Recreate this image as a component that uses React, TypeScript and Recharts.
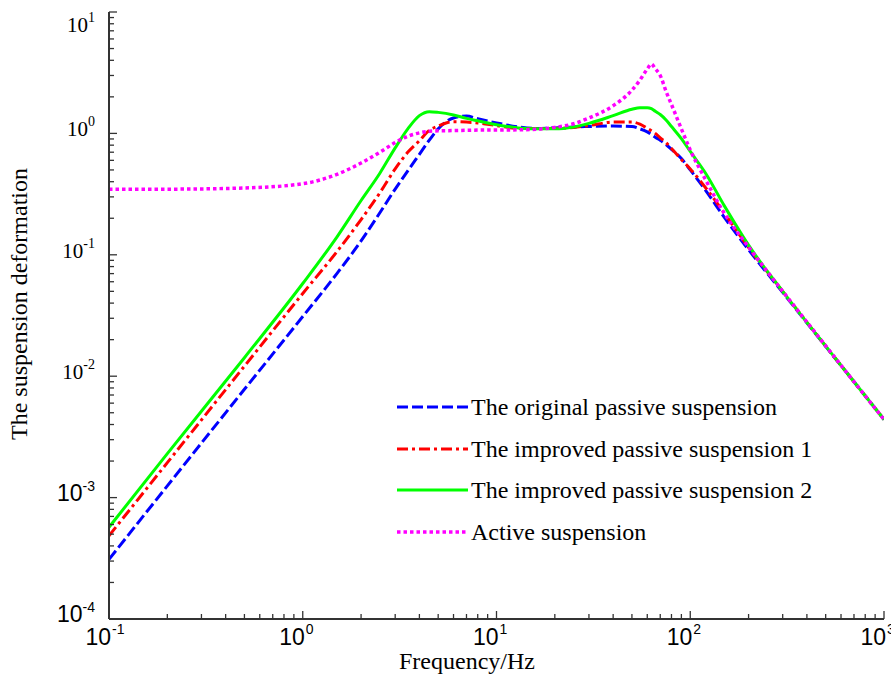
import React from 'react';
import { LineChart, Line, XAxis, YAxis, Legend } from 'recharts';

// Frequency (Hz)
const freq = [0.1, 0.2, 0.5, 1, 1.5, 2, 2.5, 3, 3.5, 4, 4.5, 5, 6, 7, 8, 10, 13, 16, 20, 25, 30, 40, 50, 55, 60, 63, 66, 70, 75, 80, 90, 100, 120, 150, 200, 300, 500, 700, 1000];

const originalPassive = [3.1e-4, 1.25e-3, 7.8e-3, 0.031, 0.07, 0.13, 0.222, 0.348, 0.497, 0.673, 0.88, 1.09, 1.34, 1.39, 1.32, 1.22, 1.13, 1.1, 1.11, 1.13, 1.14, 1.15, 1.14, 1.09, 1.03, 0.98, 0.93, 0.88, 0.81, 0.74, 0.62, 0.5, 0.34, 0.203, 0.11, 0.049, 0.0176, 0.009, 0.0044];
const improvedPassive1 = [4.85e-4, 1.94e-3, 0.0121, 0.048, 0.106, 0.195, 0.324, 0.51, 0.705, 0.87, 1.06, 1.15, 1.25, 1.24, 1.22, 1.16, 1.1, 1.1, 1.1, 1.12, 1.16, 1.24, 1.24, 1.19, 1.1, 1.05, 1.0, 0.92, 0.84, 0.75, 0.61, 0.51, 0.357, 0.22, 0.115, 0.05, 0.0177, 0.009, 0.0044];
const improvedPassive2 = [5.7e-4, 2.3e-3, 0.0142, 0.058, 0.14, 0.28, 0.47, 0.76, 1.1, 1.4, 1.51, 1.49, 1.42, 1.33, 1.27, 1.18, 1.11, 1.09, 1.09, 1.13, 1.21, 1.4, 1.58, 1.63, 1.63, 1.6, 1.52, 1.43, 1.29, 1.14, 0.905, 0.71, 0.47, 0.253, 0.12, 0.05, 0.0177, 0.009, 0.0044];
const activeSusp = [0.346, 0.347, 0.355, 0.385, 0.46, 0.57, 0.7, 0.84, 0.95, 1.01, 1.04, 1.05, 1.055, 1.06, 1.065, 1.067, 1.07, 1.08, 1.12, 1.2, 1.34, 1.69, 2.27, 2.75, 3.39, 3.73, 3.41, 3.0, 2.22, 1.73, 1.09, 0.73, 0.415, 0.219, 0.116, 0.05, 0.0178, 0.009, 0.0044];

const seriesNames = [
  'The original passive suspension',
  'The improved passive suspension 1',
  'The improved passive suspension 2',
  'Active suspension',
];

const xDecades = [-1, 0, 1, 2, 3];
const yDecades = [-4, -3, -2, -1, 0, 1];

const round = (v: number) => Number(v.toPrecision(6));
const buildTicks = (decades: number[]) => {
  const out: number[] = [];
  decades.forEach((d, i) => {
    out.push(round(Math.pow(10, d)));
    if (i < decades.length - 1) {
      for (let k = 2; k <= 9; k++) out.push(round(k * Math.pow(10, d)));
    }
  });
  return out;
};
const xTicks = buildTicks(xDecades);
const yTicks = buildTicks(yDecades);

const data = freq.map((f, i) => ({
  f,
  s0: originalPassive[i],
  s1: improvedPassive1[i],
  s2: improvedPassive2[i],
  s3: activeSusp[i],
}));

const styles = [
  { key: 's0', color: '#0000ff', dash: '11 4', width: 3 },
  { key: 's1', color: '#ff0000', dash: '11 4 3 4', width: 3 },
  { key: 's2', color: '#00ff00', dash: undefined as string | undefined, width: 3 },
  { key: 's3', color: '#ff00ff', dash: '3.5 3', width: 3.5 },
];

const SERIF = "'Liberation Serif', 'Times New Roman', serif";
const SANS = "'Liberation Sans', Arial, sans-serif";
const AXIS = '#333333';

const decadeOf = (v: number) => {
  const l = Math.log10(v);
  const e = Math.round(l);
  return { e, major: Math.abs(l - e) < 1e-6 };
};

const XTick = (props: any) => {
  const { x, y, payload } = props;
  const { e, major } = decadeOf(payload.value);
  return (
    <g>
      <line x1={x} x2={x} y1={y} y2={y - (major ? 8 : 5)} stroke={AXIS} strokeWidth={1.3} />
      {major && (
        <g>
          <text x={x + 2} y={y + 26} textAnchor="end" fontFamily={SANS} fontSize={23} fill="#000">10</text>
          <text x={x + 3} y={y + 15} textAnchor="start" fontFamily={SANS} fontSize={14} fill="#000">{String(e)}</text>
        </g>
      )}
    </g>
  );
};

const YTick = (props: any) => {
  const { x, y, payload } = props;
  const { e, major } = decadeOf(payload.value);
  const serif = e >= -2;
  const base = e === 1 ? y + 20 : y + 3;
  return (
    <g>
      <line x1={x} x2={x + (major ? 8 : 5)} y1={y} y2={y} stroke={AXIS} strokeWidth={1.3} />
      {major && (
        <text x={x - 14} y={base} textAnchor="end" fontFamily={serif ? SERIF : SANS} fontSize={serif ? 21 : 23} fill="#000">
          10
          <tspan dy={-10} fontSize={14}>{String(e)}</tspan>
        </text>
      )}
    </g>
  );
};

const XLabel = () => (
  <text x={467} y={669} textAnchor="middle" fontFamily={SERIF} fontSize={24} fill="#000">Frequency/Hz</text>
);
const YLabel = () => (
  <text x={27} y={304} transform="rotate(-90 27 304)" textAnchor="middle" fontFamily={SERIF} fontSize={24} fill="#000">
    The suspension deformation
  </text>
);

const LegendBox = () => {
  const rows = [22, 64, 105, 147];
  return (
    <svg width={440} height={170} style={{ overflow: 'visible' }}>
      {styles.map((s, i) => (
        <g key={s.key}>
          <line x1={7} x2={78} y1={rows[i]} y2={rows[i]} stroke={s.color} strokeWidth={s.width} strokeDasharray={s.dash} />
          <text x={81} y={rows[i] + 8} fontFamily={SERIF} fontSize={24} fill="#000">{seriesNames[i]}</text>
        </g>
      ))}
    </svg>
  );
};

export default function App() {
  return (
    <div style={{ width: 891, height: 677, overflow: 'hidden', background: '#fff' }}>
      <style>{'body{margin:0;background:#fff;}'}</style>
      <LineChart
        width={891}
        height={677}
        data={data}
        margin={{ top: 12, right: 7, bottom: 18, left: 49 }}
      >
        <XAxis
          dataKey="f"
          type="number"
          scale="log"
          domain={[0.1, 1000]}
          ticks={xTicks}
          interval={0}
          height={40}
          tickSize={0}
          tickMargin={0}
          tickLine={false}
          axisLine={{ stroke: AXIS, strokeWidth: 2 }}
          tick={<XTick />}
          allowDataOverflow
          label={<XLabel />}
        />
        <YAxis
          type="number"
          scale="log"
          domain={[1e-4, 10]}
          ticks={yTicks}
          interval={0}
          width={60}
          tickSize={0}
          tickMargin={0}
          tickLine={false}
          axisLine={{ stroke: AXIS, strokeWidth: 2 }}
          tick={<YTick />}
          allowDataOverflow
          label={<YLabel />}
        />
        <Legend
          layout="vertical"
          align="center"
          verticalAlign="middle"
          wrapperStyle={{ left: 390, top: 385, width: 440, height: 170 }}
          content={<LegendBox />}
        />
        {styles.map((s, i) => (
          <Line
            key={s.key}
            dataKey={s.key}
            name={seriesNames[i]}
            type="monotone"
            stroke={s.color}
            strokeWidth={s.width}
            strokeDasharray={s.dash}
            dot={false}
            activeDot={false}
            isAnimationActive={false}
          />
        ))}
      </LineChart>
    </div>
  );
}
